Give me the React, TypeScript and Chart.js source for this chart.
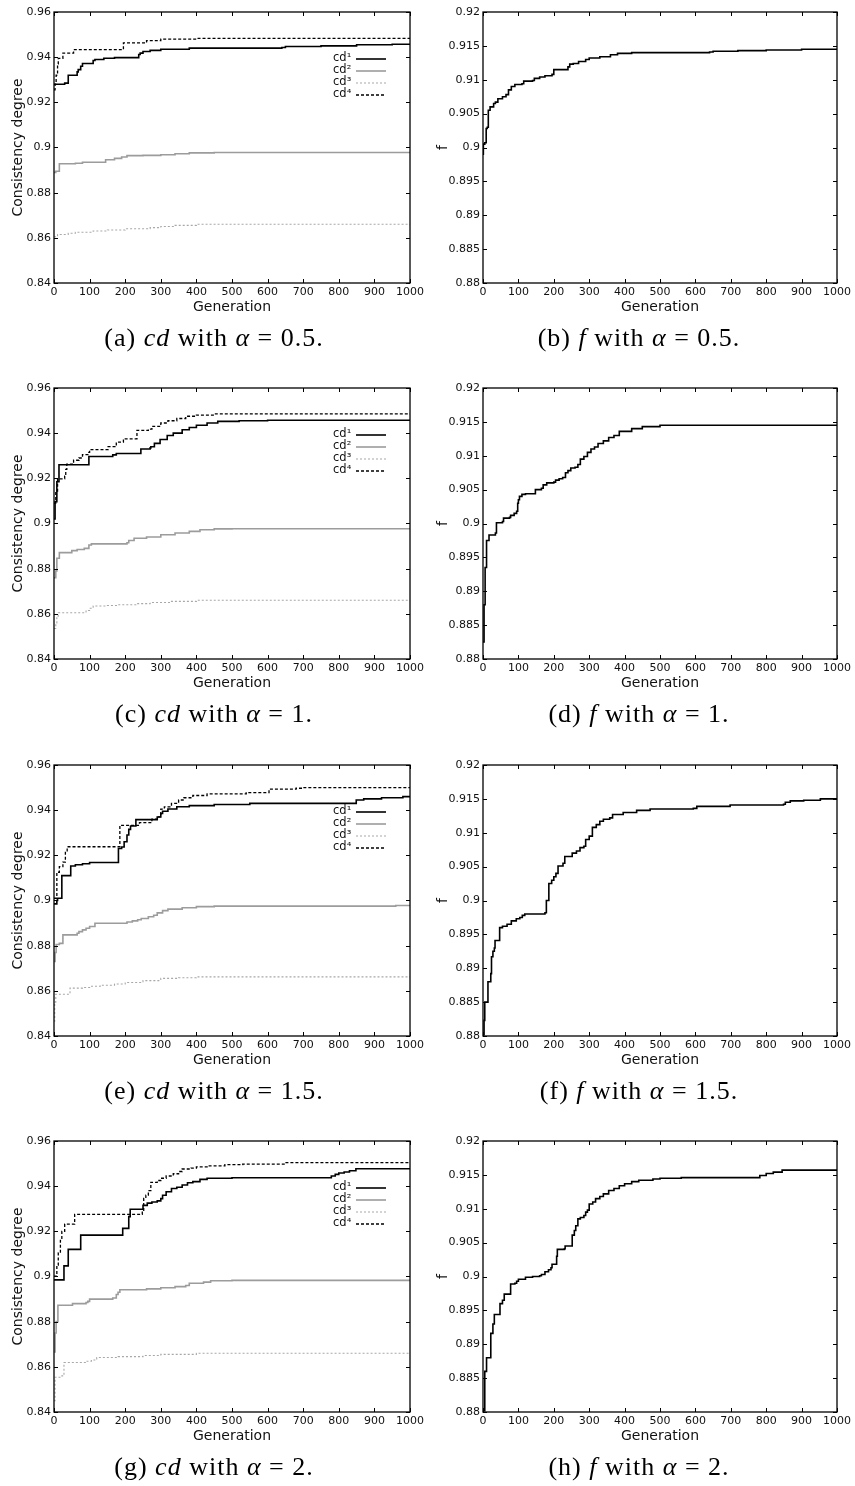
import React, { useEffect, useRef } from "react";
import { Chart, registerables } from "chart.js";

Chart.register(...registerables);

type Pt = [number, number];

// ---------- tick labels ----------
const GEN_TICKS = [0, 100, 200, 300, 400, 500, 600, 700, 800, 900, 1000];
const CD_TICKS = [0.84, 0.86, 0.88, 0.9, 0.92, 0.94, 0.96];
const F_TICKS = [0.88, 0.885, 0.89, 0.895, 0.9, 0.905, 0.91, 0.915, 0.92];
const LEGEND_LABELS = ["cd\u00B9", "cd\u00B2", "cd\u00B3", "cd\u2074"];

// ---------- (a) cd, alpha = 0.5 ----------
const a_cd1: Pt[] = [[0,0.928],[30,0.9285],[40,0.932],[65,0.9335],[68,0.9345],[75,0.936],[80,0.9372],[110,0.9385],[115,0.939],[140,0.9395],[170,0.9398],[238,0.9412],[242,0.9418],[250,0.9425],[270,0.943],[300,0.9435],[380,0.944],[640,0.9443],[650,0.9447],[750,0.945],[850,0.9455],[950,0.9457],[1000,0.9457]];
const a_cd2: Pt[] = [[0,0.889],[5,0.8895],[15,0.8928],[60,0.893],[80,0.8935],[145,0.8946],[170,0.8952],[190,0.8958],[205,0.8964],[250,0.8965],[300,0.8968],[340,0.8972],[380,0.8976],[450,0.8978],[1000,0.8978]];
const a_cd3: Pt[] = [[0,0.8605],[10,0.8615],[40,0.862],[60,0.8625],[110,0.863],[150,0.8635],[200,0.864],[270,0.8645],[300,0.865],[340,0.8655],[400,0.866],[1000,0.866]];
const a_cd4: Pt[] = [[0,0.9255],[3,0.928],[6,0.932],[10,0.937],[12,0.9395],[25,0.9418],[55,0.9433],[195,0.9463],[260,0.9473],[300,0.948],[400,0.9483],[1000,0.9483]];

// ---------- (b) f, alpha = 0.5 ----------
const b_f: Pt[] = [[0,0.899],[1,0.9005],[5,0.9007],[9,0.9028],[12,0.903],[15,0.9055],[20,0.906],[30,0.9065],[35,0.9067],[42,0.9072],[55,0.9075],[65,0.9078],[72,0.9085],[80,0.909],[90,0.9093],[110,0.9094],[115,0.9098],[140,0.9099],[145,0.9102],[160,0.9104],[175,0.9106],[195,0.9108],[200,0.9115],[240,0.9119],[245,0.9123],[255,0.9124],[270,0.9127],[290,0.913],[300,0.9132],[330,0.9134],[360,0.9137],[380,0.9139],[420,0.914],[640,0.9141],[650,0.9142],[720,0.9143],[800,0.9144],[900,0.9145],[1000,0.9145]];

// ---------- (c) cd, alpha = 1 ----------
const c_cd1: Pt[] = [[0,0.902],[3,0.9097],[8,0.9185],[14,0.926],[98,0.9297],[165,0.9304],[175,0.931],[244,0.933],[270,0.9335],[272,0.934],[282,0.9355],[298,0.9372],[318,0.939],[335,0.94],[360,0.9415],[380,0.9425],[400,0.9435],[430,0.9445],[460,0.9452],[520,0.9455],[600,0.9457],[1000,0.9457]];
const c_cd2: Pt[] = [[0,0.876],[5,0.879],[8,0.8846],[15,0.8871],[50,0.888],[65,0.8885],[85,0.889],[98,0.8905],[105,0.891],[205,0.8915],[210,0.8925],[225,0.8935],[260,0.894],[300,0.895],[340,0.8958],[380,0.8965],[410,0.8972],[450,0.8976],[500,0.8977],[1000,0.8977]];
const c_cd3: Pt[] = [[0,0.8535],[5,0.856],[8,0.859],[12,0.8605],[90,0.8615],[100,0.8625],[110,0.8635],[150,0.8637],[180,0.864],[230,0.8645],[270,0.865],[330,0.8655],[400,0.866],[1000,0.866]];
const c_cd4: Pt[] = [[0,0.909],[5,0.914],[10,0.9198],[30,0.921],[33,0.924],[36,0.9263],[55,0.928],[70,0.929],[80,0.9305],[95,0.9315],[100,0.9327],[152,0.934],[175,0.936],[195,0.9375],[233,0.9412],[265,0.9418],[275,0.943],[300,0.9445],[320,0.9455],[345,0.9465],[370,0.9475],[400,0.948],[450,0.9485],[1000,0.9485]];

// ---------- (d) f, alpha = 1 ----------
const d_f: Pt[] = [[0,0.8825],[3,0.888],[6,0.8935],[10,0.8975],[17,0.8983],[35,0.8986],[38,0.9001],[55,0.9003],[58,0.9008],[75,0.9009],[78,0.9012],[88,0.9015],[95,0.9018],[98,0.903],[100,0.9035],[103,0.904],[110,0.9043],[120,0.9044],[148,0.905],[165,0.9052],[170,0.9057],[180,0.906],[200,0.9061],[205,0.9064],[215,0.9066],[225,0.9068],[233,0.9075],[240,0.9078],[248,0.9082],[260,0.9083],[268,0.9087],[275,0.9095],[285,0.9099],[295,0.9105],[305,0.911],[315,0.9113],[325,0.9118],[340,0.9122],[355,0.9127],[370,0.913],[385,0.9136],[420,0.914],[450,0.9143],[500,0.9145],[1000,0.9145]];

// ---------- (e) cd, alpha = 1.5 ----------
const e_cd1: Pt[] = [[0,0.8985],[8,0.9],[10,0.901],[22,0.911],[47,0.9153],[60,0.9158],[80,0.9163],[100,0.9168],[181,0.923],[190,0.9237],[197,0.926],[205,0.929],[210,0.9315],[215,0.933],[230,0.9358],[290,0.937],[300,0.9385],[305,0.9395],[320,0.9405],[345,0.9415],[380,0.942],[450,0.9425],[550,0.943],[849,0.9445],[870,0.945],[920,0.9455],[980,0.946],[1000,0.946]];
const e_cd2: Pt[] = [[0,0.873],[3,0.877],[6,0.8805],[15,0.881],[25,0.8848],[65,0.8855],[70,0.8862],[80,0.887],[90,0.8877],[100,0.8885],[115,0.8899],[205,0.8905],[220,0.891],[235,0.8915],[245,0.892],[265,0.8928],[280,0.8935],[290,0.8945],[305,0.8955],[320,0.8962],[360,0.8968],[400,0.8973],[450,0.8975],[960,0.8978],[1000,0.8978]];
const e_cd3: Pt[] = [[0,0.8465],[2,0.855],[5,0.8585],[45,0.8612],[80,0.8615],[100,0.862],[130,0.8625],[170,0.863],[200,0.8637],[250,0.8645],[300,0.8655],[350,0.8658],[400,0.8662],[1000,0.8662]];
const e_cd4: Pt[] = [[0,0.901],[8,0.9125],[15,0.915],[25,0.917],[32,0.922],[37,0.9238],[185,0.9333],[240,0.9345],[275,0.936],[290,0.937],[300,0.9405],[310,0.9415],[330,0.943],[350,0.9445],[365,0.9455],[390,0.9465],[430,0.9472],[540,0.9478],[604,0.9493],[680,0.9497],[700,0.95],[1000,0.95]];

// ---------- (f) f, alpha = 1.5 ----------
const f_f: Pt[] = [[0,0.8802],[3,0.8823],[5,0.885],[14,0.888],[22,0.8892],[24,0.8917],[28,0.8925],[32,0.893],[34,0.8941],[47,0.896],[55,0.8962],[68,0.8965],[80,0.897],[94,0.8973],[104,0.8975],[111,0.8978],[118,0.898],[175,0.8982],[179,0.9],[186,0.9025],[194,0.903],[200,0.9035],[206,0.904],[212,0.9051],[226,0.9055],[231,0.9065],[252,0.907],[264,0.9073],[274,0.9078],[285,0.908],[290,0.909],[300,0.9095],[309,0.9108],[320,0.9112],[330,0.9117],[340,0.912],[358,0.9122],[366,0.9127],[396,0.913],[434,0.9133],[472,0.9135],[594,0.9136],[604,0.9139],[698,0.9141],[849,0.9142],[854,0.9145],[868,0.9147],[906,0.9148],[953,0.915],[1000,0.915]];

// ---------- (g) cd, alpha = 2 ----------
const g_cd1: Pt[] = [[0,0.8985],[28,0.9047],[40,0.912],[75,0.9183],[193,0.9213],[210,0.9265],[214,0.9298],[250,0.9315],[262,0.9325],[275,0.933],[290,0.9335],[300,0.9345],[305,0.936],[315,0.9375],[330,0.939],[345,0.9395],[360,0.9405],[375,0.9415],[390,0.942],[410,0.943],[430,0.9435],[500,0.9437],[779,0.9445],[790,0.9452],[800,0.9458],[815,0.9463],[830,0.9468],[848,0.9477],[1000,0.9477]];
const g_cd2: Pt[] = [[0,0.8666],[3,0.875],[6,0.88],[11,0.8873],[52,0.888],[90,0.8885],[95,0.889],[100,0.89],[165,0.8905],[175,0.892],[180,0.893],[185,0.8941],[260,0.8945],[300,0.895],[340,0.8955],[370,0.896],[380,0.897],[420,0.8975],[440,0.8981],[500,0.8983],[1000,0.8983]];
const g_cd3: Pt[] = [[0,0.845],[3,0.8554],[22,0.856],[28,0.8619],[90,0.8625],[105,0.863],[120,0.8641],[180,0.8645],[250,0.865],[300,0.8655],[400,0.866],[1000,0.866]];
const g_cd4: Pt[] = [[0,0.9001],[8,0.905],[12,0.9105],[18,0.916],[22,0.92],[30,0.9232],[58,0.9275],[248,0.929],[252,0.9346],[258,0.936],[265,0.938],[272,0.9417],[290,0.9425],[300,0.9435],[315,0.9445],[335,0.9455],[350,0.9465],[360,0.9476],[385,0.948],[400,0.9485],[430,0.949],[480,0.9495],[530,0.9498],[650,0.9504],[1000,0.9504]];

// ---------- (h) f, alpha = 2 ----------
const h_f: Pt[] = [[0,0.8802],[5,0.886],[10,0.888],[22,0.8916],[28,0.893],[32,0.8944],[48,0.896],[55,0.8965],[60,0.8974],[78,0.8989],[90,0.899],[95,0.8993],[100,0.8996],[120,0.8999],[140,0.9],[160,0.9001],[165,0.9003],[175,0.9007],[185,0.901],[192,0.9013],[195,0.9018],[208,0.903],[210,0.904],[230,0.9041],[232,0.9045],[252,0.9061],[258,0.9068],[262,0.9075],[268,0.9085],[275,0.9087],[285,0.909],[290,0.9095],[295,0.9098],[300,0.9107],[310,0.911],[318,0.9115],[330,0.9118],[340,0.9122],[355,0.9127],[370,0.913],[385,0.9134],[400,0.9137],[420,0.914],[440,0.9142],[480,0.9144],[500,0.9145],[560,0.9146],[782,0.9149],[800,0.9152],[820,0.9154],[845,0.9157],[1000,0.9157]];

// ---------- captions ----------
const CAPTION_LETTERS = ["a", "b", "c", "d", "e", "f", "g", "h"];
const ALPHAS = ["0.5", "1", "1.5", "2"];

// ---------- styles ----------
const SANS = "'DejaVu Sans', 'Bitstream Vera Sans', sans-serif";
const STYLES = [
  { color: "#000000", width: 1.6, dash: [] as number[] },
  { color: "#9c9c9c", width: 1.6, dash: [] as number[] },
  { color: "#a8a8a8", width: 1.1, dash: [2, 2] },
  { color: "#000000", width: 1.3, dash: [3, 2] },
];

const ROW_TOPS = [12, 388, 765, 1141];
const PLOT_H = 271;
const CANVAS_W = 427;
const CANVAS_H = 12 + PLOT_H + 40;

const fmt = (v: number) => String(parseFloat(Number(v).toFixed(3)));

function makeFramePlugin(xTicks: number[], yTicks: number[], legend: boolean) {
  return {
    id: "frameTicks",
    afterDatasetsDraw(chart: any) {
      const { ctx, chartArea } = chart;
      const { left, right, top, bottom } = chartArea;
      const xs = chart.scales.x;
      const ys = chart.scales.y;
      ctx.save();
      ctx.strokeStyle = "#000";
      ctx.lineWidth = 1;
      ctx.setLineDash([]);
      ctx.beginPath();
      xTicks.forEach((v) => {
        const px = Math.round(xs.getPixelForValue(v)) + 0.5;
        ctx.moveTo(px, bottom);
        ctx.lineTo(px, bottom - 4);
        ctx.moveTo(px, top);
        ctx.lineTo(px, top + 4);
      });
      yTicks.forEach((v) => {
        const py = Math.round(ys.getPixelForValue(v)) + 0.5;
        ctx.moveTo(left, py);
        ctx.lineTo(left + 4, py);
        ctx.moveTo(right, py);
        ctx.lineTo(right - 4, py);
      });
      ctx.stroke();
      ctx.lineWidth = 1.3;
      ctx.strokeRect(left, top, right - left, bottom - top);

      if (legend) {
        ctx.font = "11.5px " + SANS;
        ctx.textBaseline = "middle";
        ctx.textAlign = "left";
        LEGEND_LABELS.forEach((lab, i) => {
          const y = top + 46 + 12 * i;
          ctx.fillStyle = "#111";
          ctx.fillText(lab, right - 77, y);
          const st = STYLES[i];
          ctx.strokeStyle = st.color;
          ctx.lineWidth = st.width;
          ctx.setLineDash(st.dash);
          ctx.beginPath();
          ctx.moveTo(right - 54, y + 1);
          ctx.lineTo(right - 24, y + 1);
          ctx.stroke();
        });
      }
      ctx.restore();
    },
  };
}

type PanelProps = {
  left: number;
  top: number;
  series: Pt[][];
  isCd: boolean;
};

function Panel({ left, top, series, isCd }: PanelProps) {
  const ref = useRef<HTMLCanvasElement | null>(null);
  useEffect(() => {
    if (!ref.current) return;
    const isLeft = left < 100;
    const plotLeft = isLeft ? 54 : 483;
    const plotRight = isLeft ? 412 : 837;
    const yW = plotLeft - left;
    const padR = left + CANVAS_W - plotRight;
    const titleCenter = (isLeft ? 18 : 443) - left;
    const yTicks = isCd ? CD_TICKS : F_TICKS;
    const datasets = series.map((pts, i) => {
      const st = isCd ? STYLES[i] : STYLES[0];
      return {
        label: isCd ? LEGEND_LABELS[i] : "f",
        data: pts.map(([x, y]) => ({ x, y })),
        borderColor: st.color,
        borderWidth: st.width,
        borderDash: st.dash,
        pointRadius: 0,
        fill: false,
        stepped: true,
        tension: 0,
      };
    });
    const chart = new Chart(ref.current, {
      type: "line",
      data: { datasets },
      options: {
        responsive: false,
        animation: false,
        events: [],
        layout: { padding: { top: 12, right: padR, left: 0, bottom: 0 } },
        plugins: { legend: { display: false }, tooltip: { enabled: false } },
        scales: {
          x: {
            type: "linear",
            min: 0,
            max: 1000,
            afterBuildTicks: (s: any) => {
              s.ticks = GEN_TICKS.map((v) => ({ value: v }));
            },
            afterFit: (s: any) => {
              s.height = 40;
            },
            grid: { display: false, drawTicks: false },
            border: { display: false },
            ticks: {
              padding: 3,
              autoSkip: false,
              maxRotation: 0,
              color: "#111",
              font: { family: SANS, size: 11 },
              callback: (v: any) => String(v),
            },
            title: {
              display: true,
              text: "Generation",
              color: "#111",
              font: { family: SANS, size: 14 },
              padding: { top: 0, bottom: 7.5 },
            },
          },
          y: {
            type: "linear",
            min: isCd ? 0.84 : 0.88,
            max: isCd ? 0.96 : 0.92,
            afterBuildTicks: (s: any) => {
              s.ticks = yTicks.map((v) => ({ value: v }));
            },
            afterFit: (s: any) => {
              s.width = yW;
            },
            grid: { display: false, drawTicks: false },
            border: { display: false },
            ticks: {
              padding: 3,
              autoSkip: false,
              color: "#111",
              font: { family: SANS, size: 11 },
              callback: (v: any) => fmt(v),
            },
            title: {
              display: true,
              text: isCd ? "Consistency degree" : "f",
              color: "#111",
              font: { family: SANS, size: 14 },
              padding: { top: titleCenter - 8.4, bottom: 0 },
            },
          },
        },
      } as any,
      plugins: [makeFramePlugin(GEN_TICKS, yTicks, isCd)],
    });
    return () => chart.destroy();
  }, [left, top, series, isCd]);
  return (
    <canvas
      ref={ref}
      width={CANVAS_W}
      height={CANVAS_H}
      style={{ position: "absolute", left, top, width: CANVAS_W, height: CANVAS_H }}
    />
  );
}

const PANELS: { series: Pt[][]; isCd: boolean }[] = [
  { series: [a_cd1, a_cd2, a_cd3, a_cd4], isCd: true },
  { series: [b_f], isCd: false },
  { series: [c_cd1, c_cd2, c_cd3, c_cd4], isCd: true },
  { series: [d_f], isCd: false },
  { series: [e_cd1, e_cd2, e_cd3, e_cd4], isCd: true },
  { series: [f_f], isCd: false },
  { series: [g_cd1, g_cd2, g_cd3, g_cd4], isCd: true },
  { series: [h_f], isCd: false },
];

export default function App() {
  return (
    <div
      style={{
        position: "absolute",
        left: 0,
        top: 0,
        width: 855,
        height: 1486,
        background: "#fff",
        overflow: "hidden",
      }}
    >
      {PANELS.map((p, i) => {
        const row = Math.floor(i / 2);
        const col = i % 2;
        const T = ROW_TOPS[row];
        const cLeft = col === 0 ? 0 : 428;
        const capCenter = col === 0 ? 214 : 639;
        const capY = T + PLOT_H + 55;
        return (
          <React.Fragment key={i}>
            <Panel left={cLeft} top={T - 12} series={p.series} isCd={p.isCd} />
            <div
              style={{
                position: "absolute",
                left: capCenter - 200,
                width: 400,
                top: capY - 17,
                height: 34,
                lineHeight: "34px",
                textAlign: "center",
                fontFamily: "'Liberation Serif', 'Times New Roman', serif",
                fontSize: 26,
                letterSpacing: "1px",
                color: "#000",
                whiteSpace: "nowrap",
              }}
            >
              ({CAPTION_LETTERS[i]}) <i>{p.isCd ? "cd" : "f"}</i> with <i>α</i>
              {"\u2005=\u2005"}
              {ALPHAS[row]}.
            </div>
          </React.Fragment>
        );
      })}
    </div>
  );
}
